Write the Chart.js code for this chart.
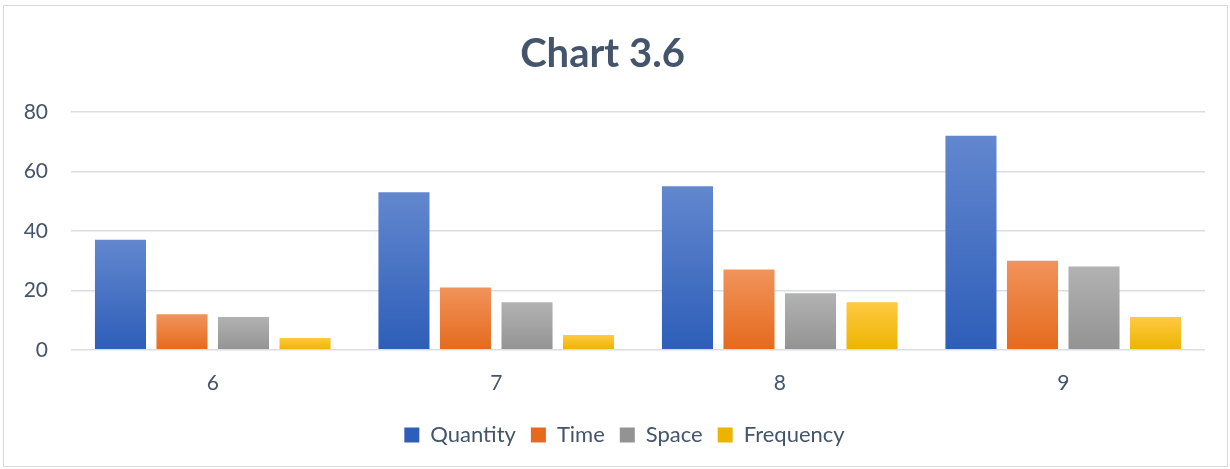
<!DOCTYPE html>
<html>
<head>
<meta charset="utf-8">
<script src="https://cdn.jsdelivr.net/npm/chart.js@4.4.1/dist/chart.umd.min.js"></script>
<style>
  html, body { margin: 0; padding: 0; background: #ffffff; }
  #caja { position: relative; width: 1230px; height: 469px; }
</style>
</head>
<body>
<div id="caja"><canvas id="grafico" width="1230" height="469"></canvas></div>
<script>
var grados = ["6", "7", "8", "9"];
var cantidad = [37, 53, 55, 72];
var tiempo = [12, 21, 27, 30];
var espacio = [11, 16, 19, 28];
var frecuencia = [4, 5, 16, 11];
var marcas = [0, 20, 40, 60, 80];

var texto = '#44546A';
var fuente = 'Lato, "Open Sans", sans-serif';

// degradado vertical por barra, como en Excel
function degradado(arriba, abajo) {
    return function (ctx) {
        var chart = ctx.chart;
        if (ctx.type !== 'data' || !chart.chartArea) {
            return abajo;
        }
        var y = chart.scales.y;
        var y0 = y.getPixelForValue(ctx.raw);
        var y1 = y.getPixelForValue(0);
        if (!isFinite(y0) || !isFinite(y1) || y0 === y1) {
            return abajo;
        }
        var g = chart.ctx.createLinearGradient(0, y0, 0, y1);
        g.addColorStop(0, arriba);
        g.addColorStop(1, abajo);
        return g;
    };
}

var marco = {
    id: 'marco',
    afterLayout: function (chart) {
        // la leyenda queda algo a la derecha del centro
        if (chart.legend) {
            chart.legend.left += 22;
            chart.legend.right += 22;
        }
    },
    beforeDraw: function (chart) {
        var c = chart.ctx;
        c.save();
        c.fillStyle = '#ffffff';
        c.fillRect(0, 0, chart.width, chart.height);
        c.strokeStyle = '#D9D9D9';
        c.lineWidth = 1;
        c.strokeRect(3.5, 5.5, 1224, 461);
        c.restore();
    }
};

var datos = {
    labels: grados,
    datasets: [
        { label: 'Quantity', data: cantidad, backgroundColor: degradado('#6287CE', '#2E5EB9') },
        { label: 'Time', data: tiempo, backgroundColor: degradado('#F1935B', '#E56A1C') },
        { label: 'Space', data: espacio, backgroundColor: degradado('#B2B2B2', '#939393') },
        { label: 'Frequency', data: frecuencia, backgroundColor: degradado('#FFC942', '#ECB400') }
    ]
};

var opciones = {
    responsive: false,
    animation: false,
    categoryPercentage: 0.868,
    barPercentage: 0.83,
    layout: { padding: { left: 0, right: 25, top: 12, bottom: 13 } },
    plugins: {
        title: {
            display: true,
            text: 'Chart 3.6',
            color: texto,
            font: { family: fuente, size: 40, weight: 'bold' },
            padding: { top: 18, bottom: 34 }
        },
        legend: {
            position: 'bottom',
            labels: {
                color: texto,
                font: { family: fuente, size: 22 },
                boxWidth: 15,
                boxHeight: 15,
                padding: 15
            }
        },
        tooltip: { enabled: false }
    },
    scales: {
        x: {
            grid: { display: false },
            border: { display: false },
            ticks: { color: texto, font: { family: fuente, size: 21 }, padding: 13 }
        },
        y: {
            min: 0,
            max: 80,
            afterBuildTicks: function (scale) {
                scale.ticks = marcas.map(function (v) { return { value: v }; });
            },
            afterFit: function (scale) { scale.width = 71; },
            grid: { color: '#D9DEE6', lineWidth: 1.5, drawTicks: false },
            border: { display: false },
            ticks: { color: texto, font: { family: fuente, size: 21 }, padding: 23 }
        }
    }
};

var ctx = document.getElementById('grafico');
var grafico = new Chart(ctx, {
    type: 'bar',
    data: datos,
    options: opciones,
    plugins: [marco]
});
</script>
</body>
</html>
